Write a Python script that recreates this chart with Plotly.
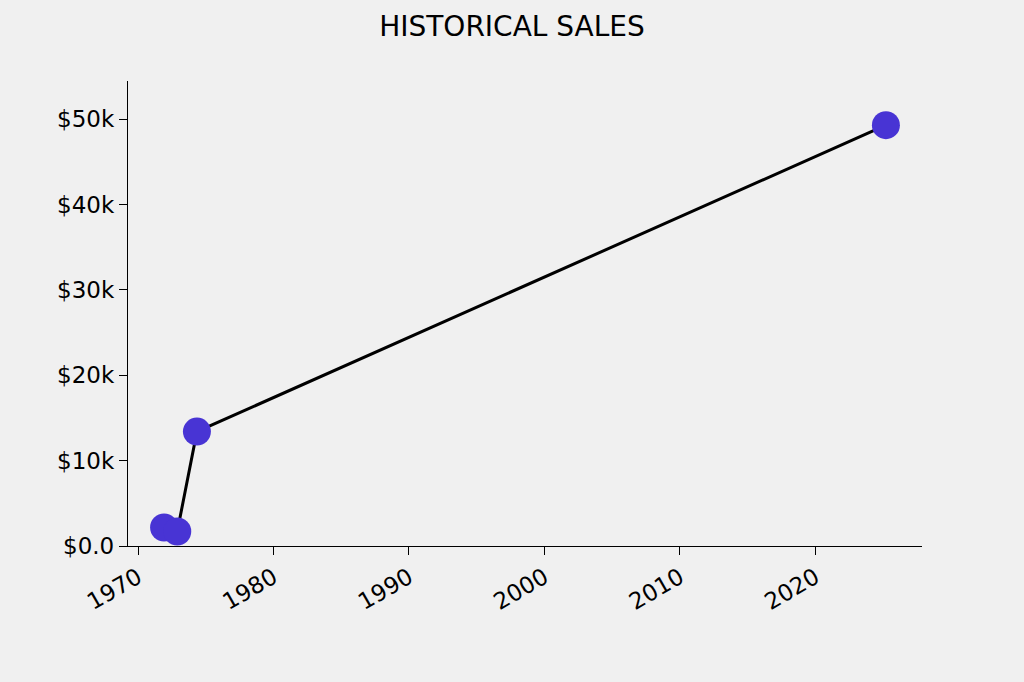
import plotly.graph_objects as go
import pandas as pd

# Data
dates = ["1971-12-05", "1972-11-24", "1974-05-08", "2025-03-15"]
sales = [2170, 1700, 13400, 49300]

ytick_vals = [0, 10000, 20000, 30000, 40000, 50000]
ytick_text = ["$0.0", "$10k", "$20k", "$30k", "$40k", "$50k"]
xtick_vals = ["1970-01-01", "1980-01-01", "1990-01-01", "2000-01-01", "2010-01-01", "2020-01-01"]
xtick_text = ["1970", "1980", "1990", "2000", "2010", "2020"]

d = pd.to_datetime(dates)
span = d.max() - d.min()
xr = [d.min() - 0.05 * span, d.max() + 0.05 * span]

BG = "#f0f0f0"
FONT = "DejaVu Sans"

fig = go.Figure()
fig.add_trace(go.Scatter(
    x=dates, y=sales, mode="lines+markers",
    line=dict(color="black", width=3),
    marker=dict(color="#4834d4", size=28, line=dict(width=0)),
    showlegend=False,
))

fig.update_layout(
    width=1024, height=682,
    paper_bgcolor=BG, plot_bgcolor=BG,
    margin=dict(l=128, r=102, t=81, b=136, pad=0),
    font=dict(family=FONT, size=23, color="black"),
    title=dict(text="HISTORICAL SALES", x=0.5, xref="container", xanchor="center",
               y=1 - 26 / 682, yref="container", yanchor="middle",
               font=dict(family=FONT, size=28, color="black")),
    hovermode=False,
)
fig.update_xaxes(
    type="date", range=xr,
    tickvals=xtick_vals, ticktext=xtick_text, tickangle=-30,
    showgrid=False, zeroline=False,
    showline=True, linecolor="black", linewidth=1.3,
    ticks="outside", ticklen=8, tickwidth=1.3, tickcolor="black",
)
fig.update_yaxes(
    range=[0, max(sales) * 1.105],
    tickvals=ytick_vals, ticktext=ytick_text,
    showgrid=False, zeroline=False,
    showline=True, linecolor="black", linewidth=1.3,
    ticks="outside", ticklen=8, tickwidth=1.3, tickcolor="black",
)

fig.write_html(
    "out.html",
    config={"displayModeBar": False},
    post_script="document.body.style.margin='0';document.body.style.background='#f0f0f0';",
)
